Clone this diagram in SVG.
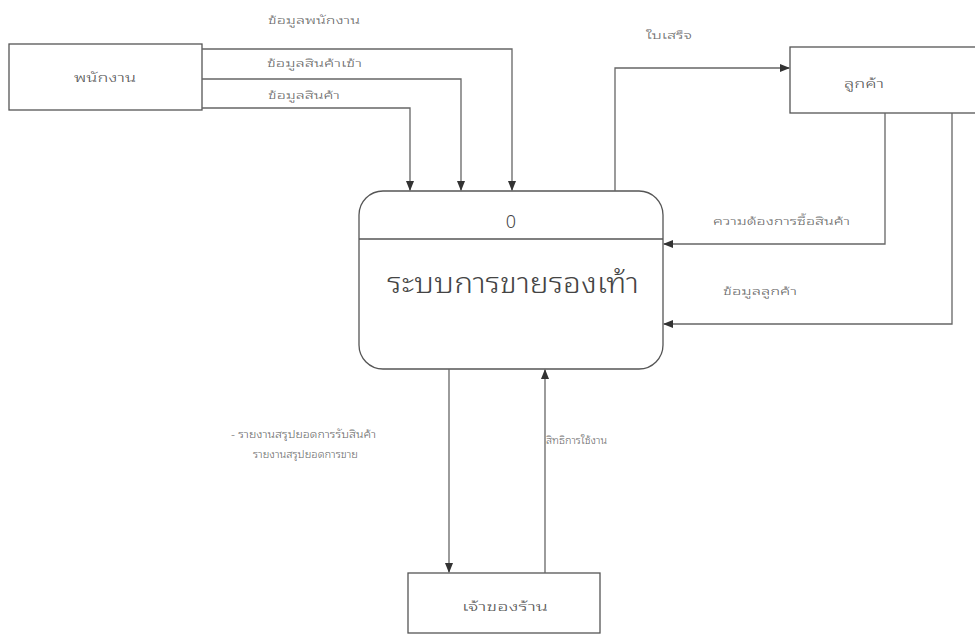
<svg xmlns="http://www.w3.org/2000/svg" width="975" height="637" viewBox="0 0 975 637">
  <defs>
    <marker id="arrow" markerWidth="10" markerHeight="8" refX="9" refY="4" orient="auto" markerUnits="userSpaceOnUse">
      <path d="M0,0 L10,4 L0,8 Z" fill="#333"/>
    </marker>
    <style>
      .box { fill: #fff; stroke: #555; stroke-width: 1.3; }
      .flow { fill: none; stroke: #666; stroke-width: 1.3; marker-end: url(#arrow); }
      .lbl { font-family: "Noto Sans Thai Looped", "Noto Sans Thai", "Noto Sans", sans-serif; font-size: 11px; font-weight: 300; fill: #666; }
      .ent { font-family: "Noto Sans Thai Looped", "Noto Sans Thai", "Noto Sans", sans-serif; font-size: 12px; font-weight: 300; fill: #555; text-anchor: middle; }
      .proc { font-family: "Noto Sans Thai Looped", "Noto Sans Thai", "Noto Sans", sans-serif; font-weight: 300; fill: #444; text-anchor: middle; }
    </style>
  </defs>
  <rect width="975" height="637" fill="#fff"/>

  <!-- external entities -->
  <g id="employee">
    <rect class="box" x="9" y="44" width="193" height="66"/>
    <text class="ent" x="105" y="82" textLength="62" lengthAdjust="spacingAndGlyphs">พนักงาน</text>
  </g>
  <g id="customer">
    <rect class="box" x="790" y="47" width="195" height="66"/>
    <text class="ent" x="864" y="88" textLength="40" lengthAdjust="spacingAndGlyphs">ลูกค้า</text>
  </g>
  <g id="owner">
    <rect class="box" x="408" y="573" width="192" height="60"/>
    <text class="ent" x="505" y="611" textLength="86" lengthAdjust="spacingAndGlyphs">เจ้าของร้าน</text>
  </g>

  <!-- process 0 -->
  <g id="process0">
    <rect class="box" x="359" y="191" width="304" height="178" rx="24" ry="24"/>
    <line x1="359" y1="239" x2="663" y2="239" stroke="#555" stroke-width="1.3"/>
    <text class="proc" x="511" y="228" font-size="18">0</text>
    <text class="proc" x="513" y="293" font-size="28" textLength="252" lengthAdjust="spacingAndGlyphs">ระบบการขายรองเท้า</text>
  </g>

  <!-- data flows -->
  <g id="connectors">
    <path class="flow" d="M202,49 H512 V190"/>
    <path class="flow" d="M202,79 H461 V190"/>
    <path class="flow" d="M202,108 H410 V190"/>
    <path class="flow" d="M615,191 V68 H789"/>
    <path class="flow" d="M885,113 V244 H664"/>
    <path class="flow" d="M952,113 V324 H664"/>
    <path class="flow" d="M449,369 V572"/>
    <path class="flow" d="M545,573 V370"/>
  </g>

  <!-- flow labels -->
  <g id="labels">
    <text class="lbl" x="268" y="24" textLength="92" lengthAdjust="spacingAndGlyphs">ข้อมูลพนักงาน</text>
    <text class="lbl" x="267" y="67" textLength="95" lengthAdjust="spacingAndGlyphs">ข้อมูลสินค้าเข้า</text>
    <text class="lbl" x="268" y="99" textLength="72" lengthAdjust="spacingAndGlyphs">ข้อมูลสินค้า</text>
    <text class="lbl" x="646" y="39" textLength="46" lengthAdjust="spacingAndGlyphs">ใบเสร็จ</text>
    <text class="lbl" x="713" y="225" textLength="137" lengthAdjust="spacingAndGlyphs">ความต้องการซื้อสินค้า</text>
    <text class="lbl" x="723" y="295" textLength="74" lengthAdjust="spacingAndGlyphs">ข้อมูลลูกค้า</text>
    <text class="lbl" x="231" y="438" textLength="145" lengthAdjust="spacingAndGlyphs">- รายงานสรุปยอดการรับสินค้า</text>
    <text class="lbl" x="253" y="458" textLength="105" lengthAdjust="spacingAndGlyphs">รายงานสรุปยอดการขาย</text>
    <text class="lbl" x="546" y="444" textLength="61" lengthAdjust="spacingAndGlyphs">สิทธิการใช้งาน</text>
  </g>
</svg>
